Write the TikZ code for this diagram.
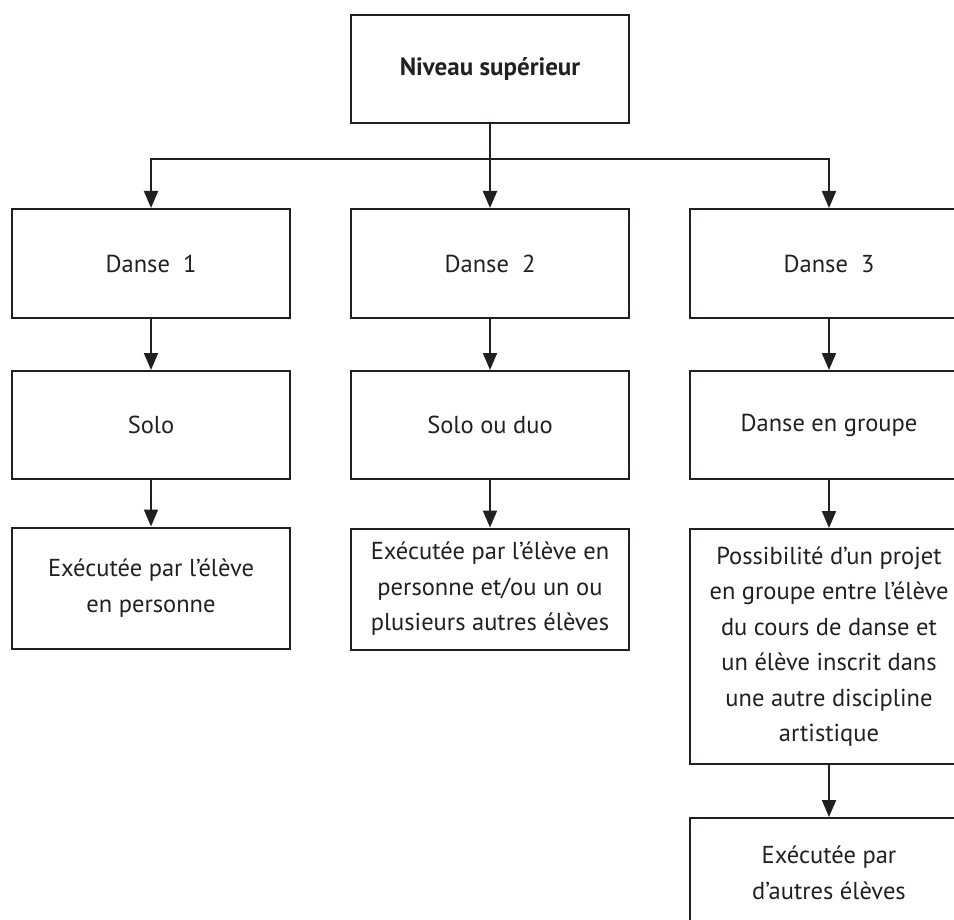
\documentclass[tikz,border=0pt]{standalone}
\usepackage{fontspec}
\setmainfont{PT Sans}
\usepackage{xcolor}
\usepackage{tikz}
\usetikzlibrary{arrows.meta}
\definecolor{ink}{HTML}{231F20}
\tikzstyle{box}=[draw=ink,line width=2pt,text=ink,align=center,inner sep=0pt,
  minimum width=278pt,font=\fontsize{24.5}{35.5}\selectfont]
\tikzstyle{link}=[draw=ink,line width=2pt,-{Triangle[length=17pt,width=14pt]}]
\begin{document}
\begin{tikzpicture}[x=1pt,y=-1pt]
	\useasboundingbox (0,0) rectangle (954,920);
	\node[box,minimum height=108pt,font=\fontsize{25}{30}\selectfont\bfseries] (top) at (490,69) {Niveau supérieur};
	% les trois danses
	\node[box,minimum height=109pt] (d1) at (151,263.5) {Danse\ \ 1};
	\node[box,minimum height=109pt] (d2) at (490,263.5) {Danse\ \ 2};
	\node[box,minimum height=109pt] (d3) at (829,263.5) {Danse\ \ 3};
	\node[box,minimum height=108pt] (f1) at (151,425) {Solo};
	\node[box,minimum height=108pt] (f2) at (490,425) {Solo ou duo};
	\node[box,minimum height=108pt] (f3) at (829,425) {Danse en groupe};
	\node[box,minimum height=121pt] (e1) at (151,588) {Exécutée par l’élève\\en personne};
	\node[box,minimum height=121pt] (e2) at (490,589) {Exécutée par l’élève en\\personne et/ou un ou\\plusieurs autres élèves};
	\node[box,minimum height=235pt] (e3) at (829,646.5) {Possibilité d’un projet\\en groupe entre l’élève\\du cours de danse et\\un élève inscrit dans\\une autre discipline\\artistique};
	\node[box,minimum height=110pt] (g3) at (829,873) {Exécutée par\\d’autres élèves};
	\coordinate (bus) at (490,159);
	\draw[draw=ink,line width=2pt] (top) -- (bus);
	\draw[link] (bus) -| (d1.north);
	\draw[link] (bus) -- (d2.north);
	\draw[link] (bus) -| (d3.north);
	\draw[link] (d1) -- (f1);
	\draw[link] (d2) -- (f2);
	\draw[link] (d3) -- (f3);
	\draw[link] (f1) -- (e1);
	\draw[link] (f2) -- (e2);
	\draw[link] (f3) -- (e3);
	\draw[link] (e3) -- (g3);
\end{tikzpicture}
\end{document}
